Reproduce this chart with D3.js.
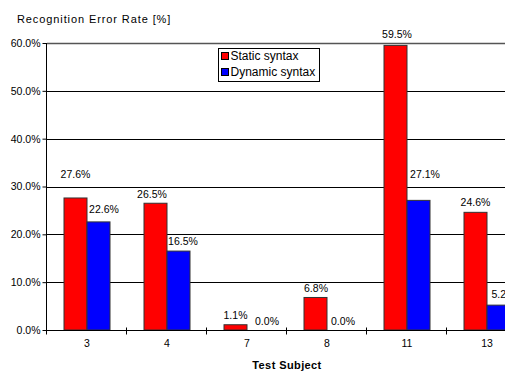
<!DOCTYPE html>
<html>
<head>
<meta charset="utf-8">
<script src="https://cdn.jsdelivr.net/npm/d3@7"></script>
<style>
  html, body { margin: 0; padding: 0; background: #fff; overflow: hidden; }
  svg { display: block; font-family: "Liberation Sans", Arial, sans-serif; }
</style>
</head>
<body>
<svg id="chart" width="505" height="371"></svg>
<script>
// Recognition error rate per test subject, static vs dynamic syntax
const subjects = ["3", "4", "7", "8", "11", "13"];
const seriesNames = ["Static syntax", "Dynamic syntax"];
const staticRates = [27.6, 26.5, 1.1, 6.8, 59.5, 24.6];
const dynamicRates = [22.6, 16.5, 0.0, 0.0, 27.1, 5.2];
const yTicks = [0, 10, 20, 30, 40, 50, 60];
const colors = ["#ff0000", "#0000ff"];

// value-label nudges (dx from bar centre, dy from bar top), per series / subject
const labelNudge = [
  [[0, -20], [-3.5, -5], [0, -6], [0.5, -5.5], [1.5, -7], [0, -6]],
  [[5.5, -9], [4.5, -6], [8.5, -5], [4.5, -5.5], [6.5, -22], [5, -7.5]]
];

const svg = d3.select("#chart");
const plot = { left: 47, right: 527, top: 43, bottom: 330 };

const x0 = d3.scaleBand()
  .domain(subjects)
  .range([plot.left, plot.right])
  .paddingInner(0.425)
  .paddingOuter(0.2125);
const x1 = d3.scaleBand()
  .domain(seriesNames)
  .range([0, x0.bandwidth()]);
const y = d3.scaleLinear().domain([0, 60]).range([plot.bottom, plot.top]);

// gridlines
svg.append("g")
  .selectAll("line")
  .data(yTicks.filter(d => d > 0))
  .join("line")
  .attr("x1", plot.left).attr("x2", plot.right)
  .attr("y1", d => Math.round(y(d)) + 0.5).attr("y2", d => Math.round(y(d)) + 0.5)
  .attr("stroke", d => d === 60 ? "#555" : "#000")
  .attr("stroke-width", d => d === 60 ? 1.5 : 1);

// bars
const rows = subjects.map((s, i) => ({ s, vals: [staticRates[i], dynamicRates[i]] }));
const groups = svg.append("g")
  .selectAll("g")
  .data(rows)
  .join("g")
  .attr("transform", d => `translate(${x0(d.s)},0)`);

groups.selectAll("rect")
  .data((d, i) => d.vals.map((v, k) => ({ v, k, i })))
  .join("rect")
  .attr("x", d => x1(seriesNames[d.k]))
  .attr("y", d => y(d.v))
  .attr("width", x1.bandwidth())
  .attr("height", d => plot.bottom - y(d.v))
  .attr("fill", d => colors[d.k])
  .attr("stroke", "#333")
  .attr("stroke-width", 1);

// value labels
groups.selectAll("text")
  .data((d, i) => d.vals.map((v, k) => ({ v, k, i })))
  .join("text")
  .attr("x", d => x1(seriesNames[d.k]) + x1.bandwidth() / 2 + labelNudge[d.k][d.i][0])
  .attr("y", d => y(d.v) + labelNudge[d.k][d.i][1])
  .attr("text-anchor", "middle")
  .attr("font-size", "10.5px")
  .attr("fill", "#000")
  .text(d => d.v.toFixed(1) + "%");

// y axis
const yAxis = svg.append("g")
  .attr("transform", `translate(${plot.left - 0.5},0)`)
  .call(d3.axisLeft(y).tickValues(yTicks).tickSize(4).tickPadding(2)
    .tickFormat(d => d.toFixed(1) + "%"));
yAxis.select(".domain").attr("stroke", "#000").attr("d", `M0,${plot.top}V${plot.bottom}`);
yAxis.selectAll(".tick line").attr("stroke", "#000");
yAxis.selectAll(".tick text")
  .attr("font-family", "Liberation Sans, Arial, sans-serif")
  .attr("font-size", "10.5px").attr("fill", "#000");

// x axis
const xAxis = svg.append("g")
  .attr("transform", `translate(0,${plot.bottom + 0.5})`);
xAxis.append("line")
  .attr("x1", plot.left).attr("x2", plot.right)
  .attr("stroke", "#000");
const boundaries = d3.range(subjects.length + 1).map(i => plot.left + i * x0.step());
xAxis.selectAll(".sep")
  .data(boundaries)
  .join("line")
  .attr("class", "sep")
  .attr("x1", d => d - 0.5).attr("x2", d => d - 0.5)
  .attr("y1", -3).attr("y2", 4)
  .attr("stroke", "#000");
xAxis.selectAll(".cat")
  .data(subjects)
  .join("text")
  .attr("class", "cat")
  .attr("x", d => x0(d) + x0.bandwidth() / 2)
  .attr("y", 16.5)
  .attr("text-anchor", "middle")
  .attr("font-size", "10.5px")
  .text(d => d);

// titles
svg.append("text")
  .attr("x", 17).attr("y", 23)
  .attr("font-size", "11px")
  .attr("letter-spacing", "0.9px")
  .text("Recognition Error Rate [%]");
svg.append("text")
  .attr("x", (plot.left + plot.right) / 2).attr("y", 369)
  .attr("text-anchor", "middle")
  .attr("font-size", "11px")
  .attr("font-weight", "bold")
  .attr("letter-spacing", "0.4px")
  .text("Test Subject");

// legend
const legend = svg.append("g").attr("transform", "translate(218.5,48.5)");
legend.append("rect")
  .attr("width", 101).attr("height", 33)
  .attr("fill", "#fff").attr("stroke", "#000");
const items = legend.selectAll(".item")
  .data(seriesNames)
  .join("g")
  .attr("class", "item")
  .attr("transform", (d, i) => `translate(3,${4 + i * 16})`);
items.append("rect")
  .attr("width", 7).attr("height", 7)
  .attr("fill", (d, i) => colors[i])
  .attr("stroke", "#000");
items.append("text")
  .attr("x", 9).attr("y", 7.5)
  .attr("font-size", "12px")
  .text(d => d);
</script>
</body>
</html>
